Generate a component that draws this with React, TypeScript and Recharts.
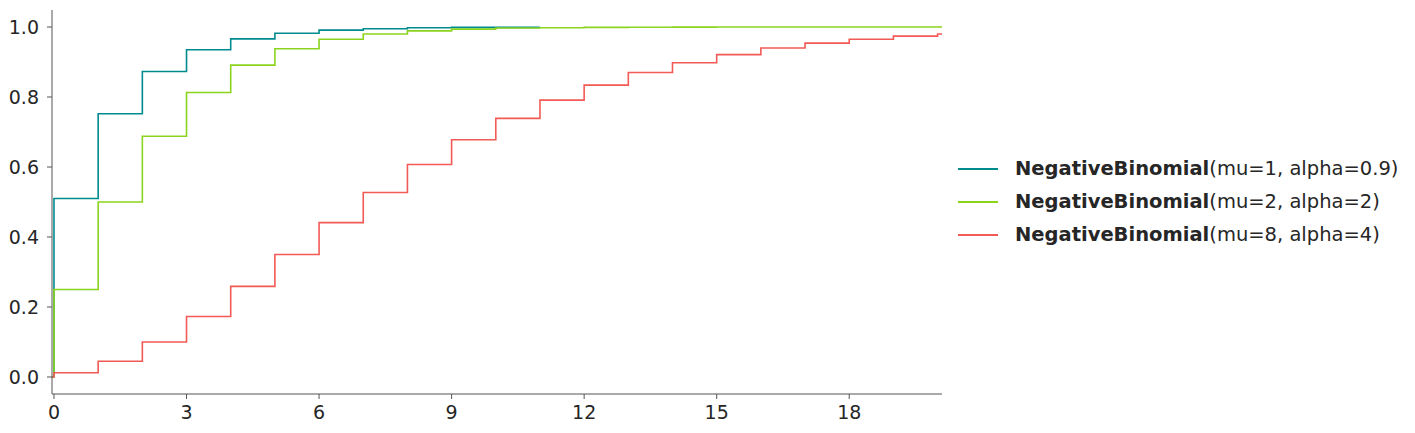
import { LineChart, Line, XAxis, YAxis } from 'recharts';

const tealCdf = [0.51, 0.752, 0.873, 0.935, 0.966, 0.982, 0.991, 0.995, 0.998, 0.999, 0.999];
const greenCdf = [
  0.25, 0.5, 0.688, 0.813, 0.891, 0.938, 0.965, 0.98, 0.989, 0.994, 0.997, 0.998, 0.999,
  0.9995, 0.9998, 0.9999, 1.0, 1.0, 1.0, 1.0, 1.0,
];
const redCdf = [
  0.012, 0.045, 0.1, 0.173, 0.259, 0.35, 0.441, 0.527, 0.607, 0.678, 0.739, 0.791, 0.834,
  0.87, 0.898, 0.921, 0.94, 0.954, 0.965, 0.974, 0.98,
];

const seriesNames = ['(mu=1, alpha=0.9)', '(mu=2, alpha=2)', '(mu=8, alpha=4)'];
const seriesColors = ['#008b8f', '#8bd41e', '#f25a55'];
const xTicks = [0, 3, 6, 9, 12, 15, 18];
const yTicks = [0, 0.2, 0.4, 0.6, 0.8, 1.0];

const X_MIN = -0.045;
const X_MAX = 20.1;

// each series starts at 0 left of the axis, then holds each value until the next integer
const toSteps = (cdf: number[], end: number) => {
  const pts = [{ x: X_MIN, y: 0 }];
  cdf.forEach((v, i) => pts.push({ x: i, y: v }));
  pts.push({ x: end, y: cdf[cdf.length - 1] });
  return pts;
};

const allSeries = [toSteps(tealCdf, 11), toSteps(greenCdf, X_MAX), toSteps(redCdf, X_MAX)];

const axisColor = '#555555';
const tickStyle = { fill: '#262626', fontSize: 19, fontFamily: 'DejaVu Sans' };

export default function App() {
  return (
    <div style={{ position: 'absolute', left: 0, top: 0, width: 1415, height: 433, background: '#fff' }}>
      <LineChart width={1415} height={433} margin={{ top: 10, right: 473, bottom: 0, left: 0 }}>
        <XAxis
          type='number'
          dataKey='x'
          domain={[X_MIN, X_MAX]}
          ticks={xTicks}
          allowDataOverflow
          height={39}
          stroke={axisColor}
          tickSize={5}
          tick={tickStyle}
          tickMargin={7}
        />
        <YAxis
          type='number'
          dataKey='y'
          domain={[-0.0486, 1.0486]}
          ticks={yTicks}
          allowDataOverflow
          width={52}
          stroke={axisColor}
          tickSize={5}
          tick={tickStyle}
          tickMargin={8}
          tickFormatter={(v: number) => v.toFixed(1)}
        />
        {allSeries.map((pts, i) => (
          <Line
            key={i}
            data={pts}
            dataKey='y'
            type='stepAfter'
            stroke={seriesColors[i]}
            strokeWidth={1.6}
            dot={false}
            isAnimationActive={false}
          />
        ))}
      </LineChart>
      <div style={{ position: 'absolute', left: 958, top: 152, fontFamily: 'DejaVu Sans', fontSize: 19.5, color: '#262626' }}>
        {seriesNames.map((name, i) => (
          <div key={i} style={{ display: 'flex', alignItems: 'center', height: 33 }}>
            <div style={{ width: 40, height: 2, background: seriesColors[i], marginRight: 17 }} />
            <span style={{ fontWeight: 'bold' }}>NegativeBinomial</span>
            <span>{name}</span>
          </div>
        ))}
      </div>
    </div>
  );
}
